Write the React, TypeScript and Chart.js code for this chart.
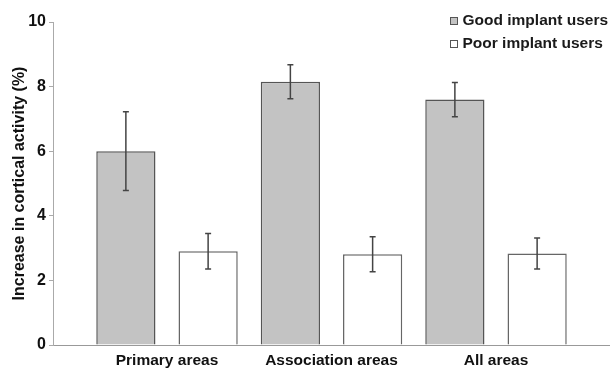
import { useEffect, useRef } from 'react';
import { Chart, registerables } from 'chart.js';

Chart.register(...registerables);

const categories = ['Primary areas', 'Association areas', 'All areas'];
const seriesLabels = ['Good implant users', 'Poor implant users'];
const goodValues = [6.0, 8.15, 7.6];
const goodErrors = [1.22, 0.53, 0.53];
const poorValues = [2.9, 2.81, 2.83];
const poorErrors = [0.55, 0.54, 0.48];
const yTicks = [0, 2, 4, 6, 8, 10];

const FONT = '"Liberation Sans", Arial, sans-serif';
const EDGE = 0.193; // extra room on both ends of the category axis, in categories

const errorBarPlugin = {
  id: 'errorBars',
  afterDatasetsDraw(chart: any) {
    const ctx = chart.ctx;
    const yScale = chart.scales.y;
    ctx.save();
    chart.data.datasets.forEach((ds: any, i: number) => {
      const meta = chart.getDatasetMeta(i);
      meta.data.forEach((bar: any, j: number) => {
        const v = ds.data[j];
        const e = ds.errors[j];
        const x = bar.x;
        const yT = yScale.getPixelForValue(v + e);
        const yB = yScale.getPixelForValue(v - e);
        ctx.strokeStyle = '#444';
        ctx.lineWidth = 1.5;
        ctx.beginPath();
        ctx.moveTo(x, yT);
        ctx.lineTo(x, yB);
        ctx.moveTo(x - 3, yT);
        ctx.lineTo(x + 3, yT);
        ctx.moveTo(x - 3, yB);
        ctx.lineTo(x + 3, yB);
        ctx.stroke();
      });
    });
    ctx.restore();
  },
};

const legendPlugin = {
  id: 'customLegend',
  afterDraw(chart: any) {
    const ctx = chart.ctx;
    const x0 = chart.width - 160;
    const rows = [21, 44];
    ctx.save();
    chart.data.datasets.forEach((ds: any, i: number) => {
      const yc = rows[i];
      ctx.fillStyle = ds.backgroundColor;
      ctx.fillRect(x0, yc - 3.5, 7, 7);
      ctx.strokeStyle = '#555';
      ctx.lineWidth = 1;
      ctx.strokeRect(x0 + 0.5, yc - 3.5, 7, 7);
      ctx.fillStyle = '#1a1a1a';
      ctx.font = `bold 15.5px ${FONT}`;
      ctx.textBaseline = 'middle';
      ctx.textAlign = 'left';
      ctx.fillText(ds.label, x0 + 12.5, yc);
    });
    ctx.restore();
  },
};

export default function App() {
  const ref = useRef<HTMLCanvasElement>(null);
  useEffect(() => {
    document.body.style.margin = '0';
    const chart = new Chart(ref.current!, {
      type: 'bar',
      data: {
        labels: categories,
        datasets: [
          {
            label: seriesLabels[0],
            data: goodValues,
            errors: goodErrors,
            backgroundColor: '#c3c3c3',
            borderColor: '#555',
            borderWidth: 1.5,
            categoryPercentage: 1.0,
            barPercentage: 0.72,
          } as any,
          {
            label: seriesLabels[1],
            data: poorValues,
            errors: poorErrors,
            backgroundColor: '#ffffff',
            borderColor: '#666',
            borderWidth: 1.5,
            categoryPercentage: 1.0,
            barPercentage: 0.72,
          } as any,
        ],
      },
      options: {
        responsive: false,
        animation: false,
        layout: { padding: { top: 22, right: 0, left: 0, bottom: 0 } },
        plugins: { legend: { display: false }, tooltip: { enabled: false } },
        scales: {
          x: {
            offset: true,
            grid: { display: true, drawOnChartArea: false, drawTicks: false },
            border: { color: '#999', width: 1 },
            ticks: {
              color: '#111',
              padding: 6,
              font: { family: FONT, size: 15.5, weight: 'bold' },
              maxRotation: 0,
            },
            afterBuildTicks: (scale: any) => {
              scale._startValue = -0.5 - EDGE;
              scale._valueRange = categories.length + 2 * EDGE;
            },
            afterFit: (scale: any) => {
              scale.height = 23;
            },
          },
          y: {
            min: yTicks[0],
            max: yTicks[yTicks.length - 1],
            afterBuildTicks: (scale: any) => {
              scale.ticks = yTicks.map((v) => ({ value: v }));
            },
            grid: { display: true, drawOnChartArea: false, drawTicks: true, tickLength: 4, color: '#aaa' },
            border: { color: '#aaa', width: 1 },
            ticks: {
              color: '#111',
              padding: 3,
              font: { family: FONT, size: 16, weight: 'bold' },
            },
            title: {
              display: true,
              text: 'Increase in cortical activity (%)',
              color: '#111',
              padding: { top: 10, bottom: 0 },
              font: { family: FONT, size: 16, weight: 'bold' },
            },
            afterFit: (scale: any) => {
              scale.width = 53;
            },
          },
        },
      },
      plugins: [errorBarPlugin, legendPlugin],
    });
    return () => chart.destroy();
  }, []);
  return (
    <div style={{ width: 610, height: 368 }}>
      <canvas ref={ref} width={610} height={368} />
    </div>
  );
}
